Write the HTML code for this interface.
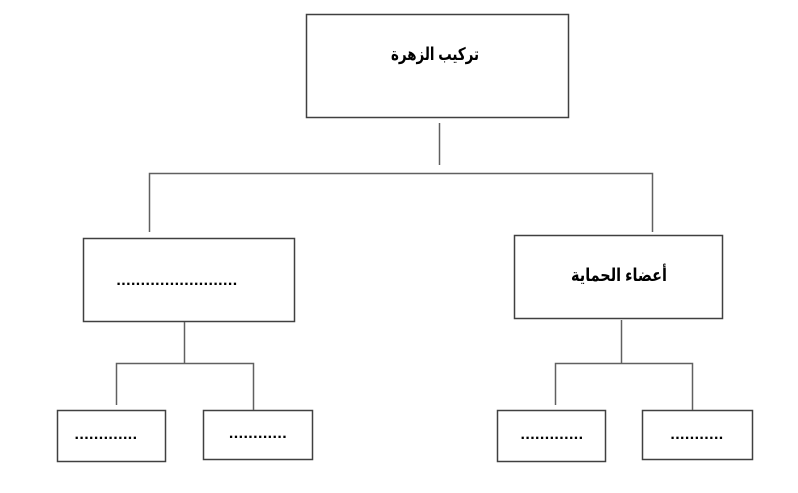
<!DOCTYPE html>
<html><head><meta charset="utf-8"><style>
html,body{margin:0;padding:0;background:#fff;width:798px;height:493px;overflow:hidden}
svg{display:block}
text{font-family:"Liberation Sans","DejaVu Sans","Noto Sans CJK SC",sans-serif;font-weight:bold;fill:#000}
.d{font-size:16px;letter-spacing:0.4px}
</style></head><body>
<svg width="798" height="493" viewBox="0 0 798 493" xmlns="http://www.w3.org/2000/svg">
<g fill="none" stroke="#404040" stroke-width="1.5">
<rect x="306.5" y="14.5" width="262" height="103"/>
<rect x="83.5" y="238.5" width="211" height="83"/>
<rect x="514.5" y="235.5" width="208" height="83"/>
<rect x="57.5" y="410.5" width="108" height="51"/>
<rect x="203.5" y="410.5" width="109" height="49"/>
<rect x="497.5" y="410.5" width="108" height="51"/>
<rect x="642.5" y="410.5" width="110" height="49"/>
</g>
<g fill="none" stroke="#606060" stroke-width="1.5">
<path d="M439.5 123V165"/>
<path d="M149.5 232V173.5H652.5V232"/>
<path d="M184.5 322V363.5"/>
<path d="M116.5 405V363.5H253.5V410"/>
<path d="M621.5 320V363.5"/>
<path d="M555.5 405V363.5H692.5V410"/>
</g>
<text x="435" y="60" font-size="17.5" text-anchor="middle" direction="rtl" textLength="88" lengthAdjust="spacingAndGlyphs">تركيب الزهرة</text>
<text x="619" y="281" font-size="17.5" text-anchor="middle" direction="rtl" textLength="96" lengthAdjust="spacingAndGlyphs">أعضاء الحماية</text>
<text class="d" x="177" y="285" text-anchor="middle">.........................</text>
<text class="d" x="106" y="439" text-anchor="middle">.............</text>
<text class="d" x="258" y="438" text-anchor="middle">............</text>
<text class="d" x="552" y="439" text-anchor="middle">.............</text>
<text class="d" x="697" y="439" text-anchor="middle">...........</text>
</svg>
</body></html>
